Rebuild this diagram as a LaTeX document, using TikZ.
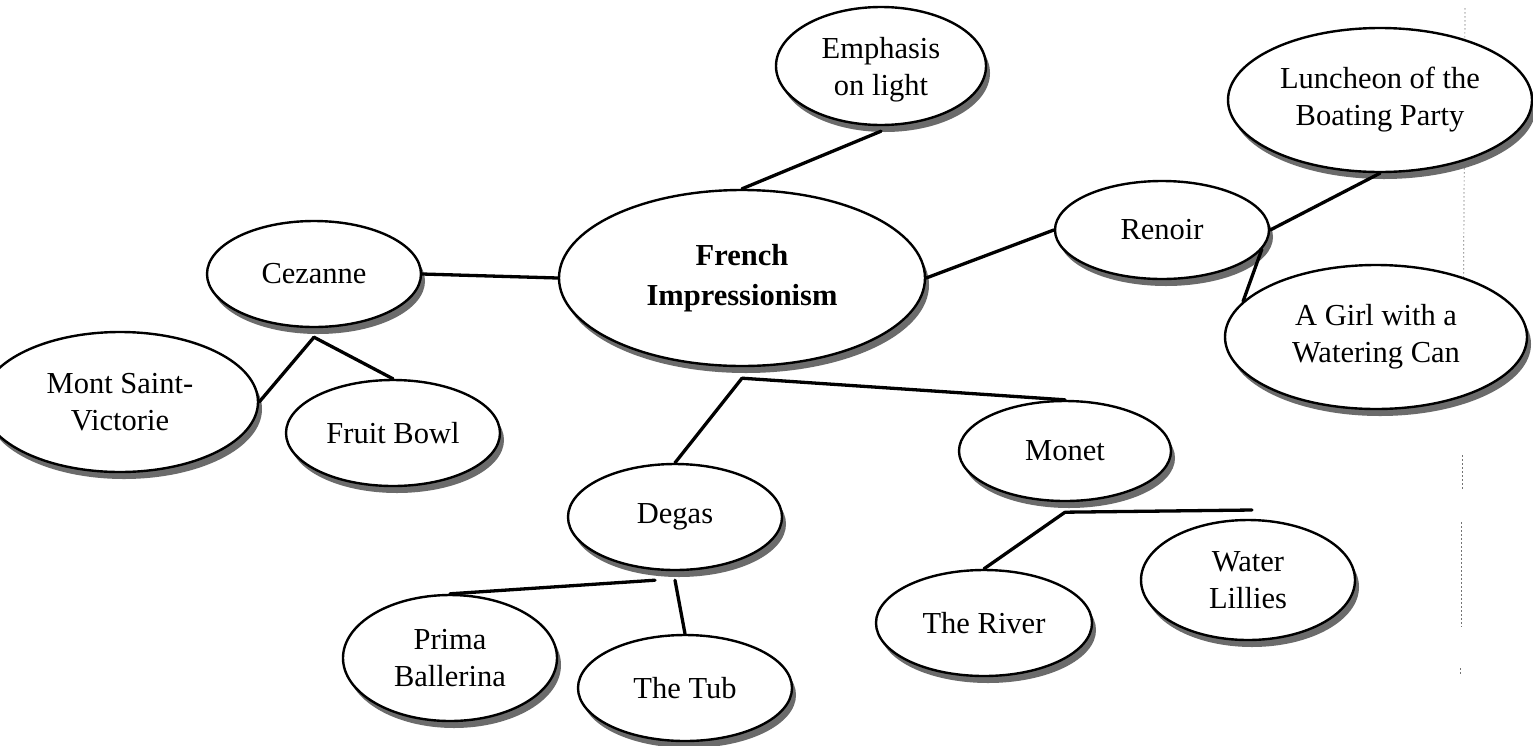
\documentclass[tikz,border=0pt]{standalone}
\usepackage{fontspec}
\setmainfont{Liberation Serif}
\usetikzlibrary{shapes.geometric,shadows}
\tikzset{
  bub/.style={ellipse, draw=black, line width=2.4pt, fill=white, inner sep=0pt,
    align=center, font=\fontsize{30.5}{37}\selectfont,
    drop shadow={shadow xshift=4pt, shadow yshift=-7pt, fill=black!58, opacity=1}},
  conn/.style={line width=3.3pt, line cap=round},
  scan/.style={draw=black!55, line width=0.7pt, dash pattern=on 1.5pt off 2.5pt}
}
\begin{document}
\begin{tikzpicture}[x=1pt,y=-1pt]
\fill[white] (0,0) rectangle (1533,745);
\useasboundingbox (0,0) rectangle (1533,745);
% scanning artefact line
\draw[scan] (1465,8) -- (1463,395);
\draw[scan] (1462,455) -- (1462,490);
\draw[scan] (1461,522) -- (1461,627);
\draw[scan] (1460,668) -- (1460,675);
% nodes
\node[bub, minimum width=210pt, minimum height=118pt, text depth=-4pt] (emph) at (881,66) {Emphasis\\on light};
\node[bub, minimum width=304pt, minimum height=144pt] (lun) at (1380,100) {Luncheon of the\\Boating Party};
\node[bub, minimum width=214pt, minimum height=98pt] (ren) at (1162,230) {Renoir};
\node[bub, minimum width=366pt, minimum height=176pt, font=\fontsize{30.5}{40}\selectfont\bfseries] (fi) at (742,278) {French\\Impressionism};
\node[bub, minimum width=214pt, minimum height=106pt] (ces) at (314,274) {Cezanne};
\node[bub, minimum width=302pt, minimum height=144pt] (girl) at (1376,337) {A Girl with a\\Watering Can};
\node[bub, minimum width=276pt, minimum height=140pt] (mont) at (120,402) {Mont Saint-\\Victorie};
\node[bub, minimum width=214pt, minimum height=106pt] (fruit) at (393,433) {Fruit Bowl};
\node[bub, minimum width=212pt, minimum height=100pt] (monet) at (1065,451) {Monet};
\node[bub, minimum width=214pt, minimum height=106pt] (degas) at (675,517) {Degas};
\node[bub, minimum width=214pt, minimum height=120pt] (wl) at (1248,580) {Water\\Lillies};
\node[bub, minimum width=216pt, minimum height=106pt] (river) at (984,623) {The River};
\node[bub, minimum width=214pt, minimum height=126pt] (prima) at (450,658) {Prima\\Ballerina};
\node[bub, minimum width=214pt, minimum height=106pt] (tub) at (685,688) {The Tub};
\coordinate (wlend) at (1252,510);
% connectors
\draw[conn] ([yshift=-5pt]emph.south) -- (fi.north);
\draw[conn] (fi.east) -- (ren.west);
\draw[conn] (ren.east) -- (lun.south);
\draw[conn] (ren.-11) -- (girl.165);
\draw[conn] (ces.east) -- (fi.west);
\draw[conn] ([yshift=-9pt]ces.south) -- (mont.east);
\draw[conn] ([yshift=-9pt]ces.south) -- (fruit.north);
\draw[conn] ([yshift=-11pt]fi.south) -- (degas.north);
\draw[conn] ([yshift=-11pt]fi.south) -- (monet.north);
\draw[conn] ([yshift=-9pt,xshift=-20pt]degas.south) -- (prima.north);
\draw[conn] ([yshift=-9pt]degas.south) -- (tub.north);
\draw[conn] ([yshift=-10pt]monet.south) -- (river.north);
\draw[conn] ([yshift=-10pt]monet.south) -- (wlend);
\end{tikzpicture}
\end{document}
